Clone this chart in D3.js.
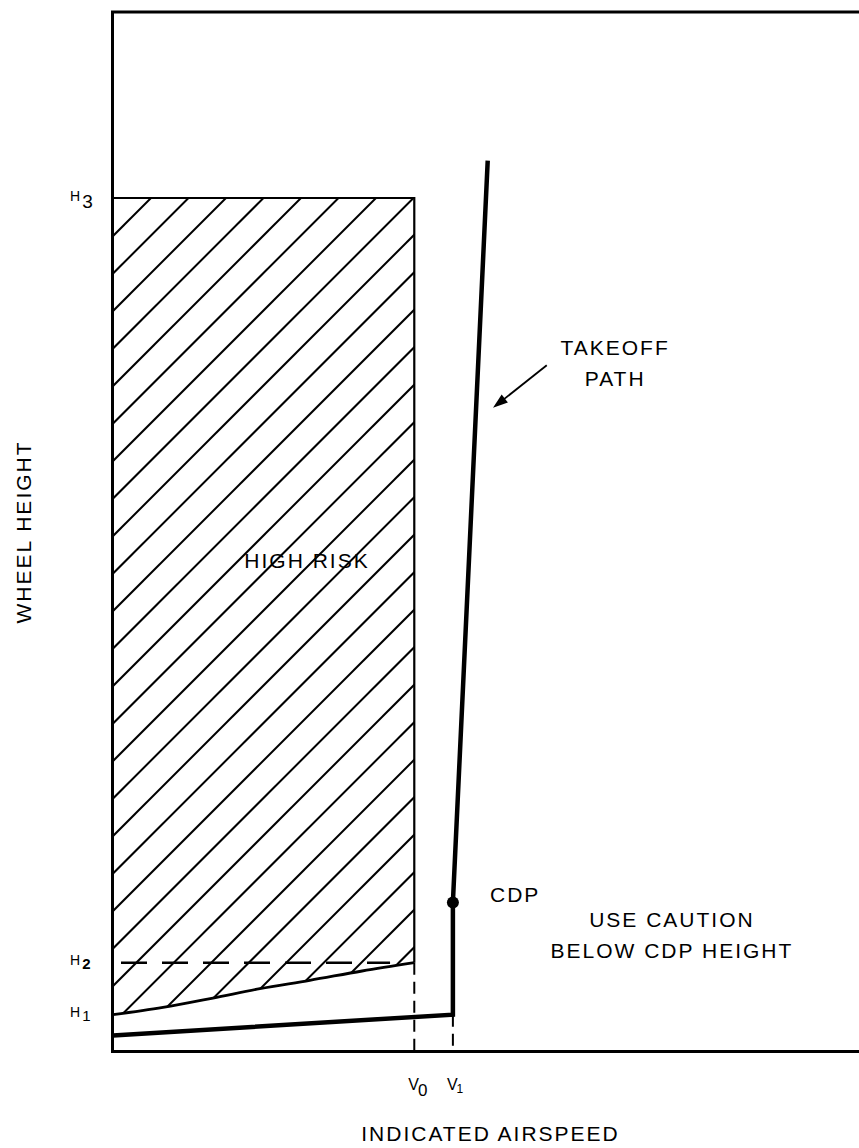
<!DOCTYPE html>
<html>
<head>
<meta charset="utf-8">
<script src="https://cdn.jsdelivr.net/npm/d3@7"></script>
<style>
  html, body { margin: 0; padding: 0; background: #fff; }
  svg { display: block; }
  text { font-family: "Liberation Sans", Arial, sans-serif; fill: #000; }
</style>
</head>
<body>
<script>
// ---- data (arbitrary units: airspeed 0-100, wheel height 0-100) ----
const speedMarks = [
  { name: "V", sub: "0", x: 39.8 },
  { name: "V", sub: "1", x: 44.9 }
];
const heightMarks = [
  { name: "H", sub: "1", y: 3.5 },
  { name: "H", sub: "2", y: 8.5 },
  { name: "H", sub: "3", y: 82.1 }
];
// lower boundary of the high-risk region (from H1 at zero speed to H2 at V0)
const riskLowerX = [0, 6.6, 13.2, 19.4, 26.0, 32.9, 39.8];
const riskLowerY = [3.5, 4.2, 5.1, 6.0, 6.8, 7.7, 8.5];
// takeoff path: ground roll, vertical lift to CDP, then climb
const pathX = [0, 44.9, 44.9, 49.5];
const pathY = [1.5, 3.5, 14.3, 85.7];
const cdp = { x: 44.9, y: 14.3 };
const h2DashEnd = 36.6;
const arrowFrom = { x: 57.3, y: 66.0 };
const arrowTo = { x: 50.2, y: 61.9 };
const labels = [
  { lines: ["HIGH RISK"], x: 25.5, y: 46.5, anchor: "middle" },
  { lines: ["TAKEOFF", "PATH"], x: 66.2, y: 67.0, anchor: "middle" },
  { lines: ["CDP"], x: 49.8, y: 14.3, anchor: "start" },
  { lines: ["USE CAUTION", "BELOW CDP HEIGHT"], x: 73.7, y: 11.9, anchor: "middle" }
];
const xTitle = "INDICATED AIRSPEED";
const yTitle = "WHEEL HEIGHT";

// ---- layout ----
const W = 859, H = 1148;
const x = d3.scaleLinear().domain([0, 100]).range([113, 870]);
const y = d3.scaleLinear().domain([0, 100]).range([1051, 12]);

const svg = d3.select("body").append("svg").attr("width", W).attr("height", H);

const V0 = speedMarks[0].x, V1 = speedMarks[1].x;
const H1 = heightMarks[0].y, H2 = heightMarks[1].y, H3 = heightMarks[2].y;

// high-risk region polygon
const riskPoly = [[0, H3], [V0, H3], [V0, H2]]
  .concat(riskLowerX.map((d, i) => [d, riskLowerY[i]]).reverse());

svg.append("clipPath").attr("id", "riskClip")
  .append("path")
  .attr("d", d3.line().x(d => x(d[0])).y(d => y(d[1]))(riskPoly) + "Z");

// hatch lines (45 degrees, regular spacing)
const hatchSpacing = 37.5;
const x0 = x(0);
const hatch = d3.range(-2, 34).map(k => 236 + hatchSpacing * k);
svg.append("g").attr("clip-path", "url(#riskClip)")
  .selectAll("line").data(hatch).join("line")
  .attr("x1", x0 - 20).attr("y1", c => c + 20)
  .attr("x2", x0 + 500).attr("y2", c => c - 500)
  .attr("stroke", "#000").attr("stroke-width", 2);

// box top and right side
svg.append("path")
  .attr("d", d3.line().x(d => x(d[0])).y(d => y(d[1]))([[0, H3], [V0, H3], [V0, H2]]))
  .attr("fill", "none").attr("stroke", "#000").attr("stroke-width", 2.2);

// lower boundary curve
svg.append("path")
  .attr("d", d3.line().curve(d3.curveMonotoneX).x(d => x(d[0])).y(d => y(d[1]))(riskLowerX.map((d, i) => [d, riskLowerY[i]])))
  .attr("fill", "none").attr("stroke", "#000").attr("stroke-width", 2.8);

// H2 dashed line
svg.append("line")
  .attr("x1", x(0)).attr("x2", x(h2DashEnd)).attr("y1", y(H2)).attr("y2", y(H2))
  .attr("stroke", "#000").attr("stroke-width", 2.6).attr("stroke-dasharray", "26,15")
  .attr("stroke-dashoffset", -8);

// vertical dashed lines at V0 and V1
svg.append("line").attr("x1", x(V0)).attr("x2", x(V0)).attr("y1", y(H2)).attr("y2", y(0))
  .attr("stroke", "#000").attr("stroke-width", 2).attr("stroke-dasharray", "12,7");
svg.append("line").attr("x1", x(V1)).attr("x2", x(V1)).attr("y1", y(pathY[1])).attr("y2", y(0))
  .attr("stroke", "#000").attr("stroke-width", 2).attr("stroke-dasharray", "12,7");

// frame (left, top, bottom; right side runs off the page)
svg.append("path")
  .attr("d", `M${x(100)},${y(100)}H${x(0) - 0.5}V${y(0) + 0.5}H${x(100)}`)
  .attr("fill", "none").attr("stroke", "#000").attr("stroke-width", 3);

// takeoff path
svg.append("path")
  .attr("d", d3.line().x((d, i) => x(pathX[i])).y((d, i) => y(pathY[i]))(pathX))
  .attr("fill", "none").attr("stroke", "#000").attr("stroke-width", 4.5)
  .attr("stroke-linejoin", "miter");

// CDP point
svg.append("circle").attr("cx", x(cdp.x)).attr("cy", y(cdp.y)).attr("r", 6).attr("fill", "#000");

// arrow
const ax1 = x(arrowFrom.x), ay1 = y(arrowFrom.y), ax2 = x(arrowTo.x), ay2 = y(arrowTo.y);
const ang = Math.atan2(ay2 - ay1, ax2 - ax1);
const hl = 15, hw = 5;
svg.append("line").attr("x1", ax1).attr("y1", ay1)
  .attr("x2", ax2 - Math.cos(ang) * hl * 0.8).attr("y2", ay2 - Math.sin(ang) * hl * 0.8)
  .attr("stroke", "#000").attr("stroke-width", 1.8);
const bx = ax2 - Math.cos(ang) * hl, by = ay2 - Math.sin(ang) * hl;
svg.append("path")
  .attr("d", `M${ax2},${ay2}L${bx + Math.sin(ang) * hw},${by - Math.cos(ang) * hw}L${bx - Math.sin(ang) * hw},${by + Math.cos(ang) * hw}Z`)
  .attr("fill", "#000");

// annotation labels
const fs = 21, ls = 2;
labels.forEach(l => {
  const t = svg.append("text").attr("text-anchor", l.anchor)
    .attr("font-size", fs).attr("letter-spacing", ls);
  l.lines.forEach((s, i) => {
    t.append("tspan").attr("x", x(l.x) + (l.anchor === "middle" ? ls / 2 : 0))
      .attr("y", y(l.y) + i * 31).text(s);
  });
});

// height marks
heightMarks.forEach(m => {
  const t = svg.append("text").attr("x", 70).attr("y", y(m.y) + (m.sub === "3" ? 3 : 2))
    .attr("font-size", 14);
  t.append("tspan").text(m.name);
  t.append("tspan").attr("dx", 2).attr("dy", m.sub === "3" ? 7 : 4)
    .attr("font-size", m.sub === "3" ? 19 : 15)
    .attr("font-weight", m.sub === "2" ? "bold" : "normal").text(m.sub);
});

// speed marks
speedMarks.forEach(m => {
  const t = svg.append("text").attr("x", x(m.x) - 6).attr("y", 1090).attr("font-size", 16);
  t.append("tspan").text(m.name);
  t.append("tspan").attr("dx", -1).attr("dy", m.sub === "0" ? 6 : 3)
    .attr("font-size", m.sub === "0" ? 17 : 12).text(m.sub);
});

// axis titles
svg.append("text").attr("x", 489.5 + ls / 2).attr("y", 1141).attr("text-anchor", "middle")
  .attr("font-size", fs).attr("letter-spacing", ls).text(xTitle);
svg.append("text").attr("transform", "translate(31,532) rotate(-90)").attr("text-anchor", "middle")
  .attr("font-size", fs).attr("letter-spacing", ls).text(yTitle);
</script>
</body>
</html>
